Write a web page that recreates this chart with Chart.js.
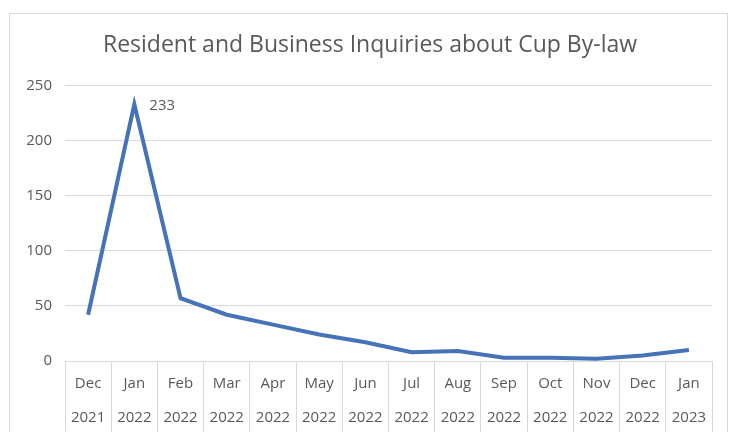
<!DOCTYPE html>
<html>
<head>
<meta charset="utf-8">
<script src="https://cdn.jsdelivr.net/npm/chart.js@4"></script>
<style>
  html, body { margin: 0; padding: 0; background: #fff; overflow: hidden; }
  #frame { position: absolute; left: 9px; top: 13px; width: 717px; height: 430px; border: 1px solid #d9d9d9; }
  #wrap { position: absolute; left: 0; top: 0; width: 729px; height: 435px; }
</style>
</head>
<body>
<div id="frame"></div>
<div id="wrap"><canvas id="myChart"></canvas></div>
<script>
var meses = ['Dec', 'Jan', 'Feb', 'Mar', 'Apr', 'May', 'Jun', 'Jul', 'Aug', 'Sep', 'Oct', 'Nov', 'Dec', 'Jan'];
var anios = ['2021', '2022', '2022', '2022', '2022', '2022', '2022', '2022', '2022', '2022', '2022', '2022', '2022', '2023'];
var consultas = [42, 233, 57, 42, 33, 24, 17, 8, 9, 3, 3, 2, 5, 10];
var yTicks = [0, 50, 100, 150, 200, 250];

var labels = meses.map(function(m, i) { return [m, anios[i]]; });

// etiqueta del pico (233) y titulo centrado en el marco
var etiquetaPico = {
    id: 'etiquetaPico',
    afterLayout: function(chart) {
        chart.titleBlock.left = 28;
    },
    afterDatasetsDraw: function(chart) {
        var meta = chart.getDatasetMeta(0);
        var idx = consultas.indexOf(Math.max.apply(null, consultas));
        var p = meta.data[idx];
        var ctx = chart.ctx;
        ctx.save();
        ctx.font = '15px "Open Sans"';
        ctx.fillStyle = '#595959';
        ctx.textBaseline = 'middle';
        ctx.textAlign = 'left';
        ctx.fillText(String(consultas[idx]), p.x + 15, p.y + 1);
        ctx.restore();
    }
};

var ctx = document.getElementById('myChart').getContext('2d');
var myChart = new Chart(ctx, {
    type: 'line',
    data: {
        labels: labels,
        datasets: [{
            label: 'Inquiries',
            data: consultas,
            fill: false,
            borderColor: '#4672B8',
            borderWidth: 4,
            pointRadius: 0,
            tension: 0
        }]
    },
    options: {
        responsive: true,
        maintainAspectRatio: false,
        animation: false,
        layout: { padding: { left: 0, right: 17, top: 0, bottom: 0 } },
        plugins: {
            legend: { display: false },
            tooltip: { enabled: false },
            title: {
                display: true,
                text: 'Resident and Business Inquiries about Cup By-law',
                color: '#595959',
                font: { family: 'Open Sans', size: 23, weight: 'normal' },
                padding: { top: 32, bottom: 26 }
            }
        },
        scales: {
            x: {
                offset: true,
                afterFit: function(scale) { scale.height = 74; },
                grid: {
                    offset: true,
                    drawOnChartArea: false,
                    drawTicks: true,
                    tickLength: 75,
                    color: '#d9d9d9'
                },
                border: { display: true, color: '#d9d9d9' },
                ticks: {
                    color: '#595959',
                    font: { family: 'Open Sans', size: 15, lineHeight: 2.267 },
                    padding: -69,
                    maxRotation: 0,
                    autoSkip: false
                }
            },
            y: {
                min: 0,
                max: 250,
                afterFit: function(scale) { scale.width = 65; },
                afterBuildTicks: function(scale) {
                    scale.ticks = yTicks.map(function(v) { return { value: v }; });
                },
                grid: { color: '#d9d9d9', drawTicks: false },
                border: { display: false },
                ticks: {
                    color: '#595959',
                    font: { family: 'Open Sans', size: 15 },
                    padding: 13
                }
            }
        }
    },
    plugins: [etiquetaPico]
});
</script>
</body>
</html>
